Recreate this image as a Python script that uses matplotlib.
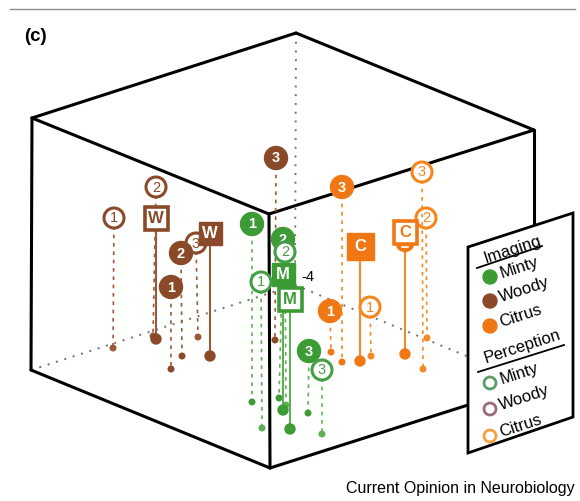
import matplotlib.pyplot as plt
from matplotlib.patches import Circle, Rectangle, Polygon, Wedge

plt.rcParams['font.family'] = ['Liberation Sans', 'DejaVu Sans']

# colours for each odour
fill_col = {'Minty': '#3d9b35', 'Woody': '#8a4a2a', 'Citrus': '#f07814'}
ring_col = {'Minty': '#45a045', 'Woody': '#8a4a2a', 'Citrus': '#f5861e'}
stem_col = {'Minty': '#5fb055', 'Woody': '#9a5a3a', 'Citrus': '#f58a2a'}
legend_ring = {'Minty': '#5b9e6b', 'Woody': '#9b6b7a', 'Citrus': '#f2a040'}

# imaging results (filled circles), position in the drawing + foot of the drop line
img_odour = ['Woody', 'Woody', 'Woody', 'Minty', 'Minty', 'Minty', 'Citrus', 'Citrus']
img_label = ['3', '2', '1', '1', '2', '3', '3', '1']
img_x = [276, 181, 171, 252, 283, 309, 342, 330]
img_y = [158, 253, 287, 224, 239, 351, 187, 311]
img_base_x = [275, 182, 171, 252, 279, 308, 342, 331]
img_base_y = [340, 356, 369, 402, 398, 413, 362, 352]

# perception results (open circles)
perc_odour = ['Woody', 'Woody', 'Woody', 'Minty', 'Minty', 'Minty', 'Citrus', 'Citrus', 'Citrus']
perc_label = ['1', '2', '3', '1', '2', '3', '1', '2', '3']
perc_x = [114, 156, 196, 261, 285, 322, 370, 426, 422]
perc_y = [218, 187, 243, 282, 252, 370, 307, 218, 172]
perc_base_x = [113, 153, 198, 262, 286, 322, 371, 427, 423]
perc_base_y = [348, 336, 337, 428, 405, 434, 356, 338, 369]

# means (squares): filled = imaging, open = perception
mean_odour = ['Woody', 'Woody', 'Minty', 'Minty', 'Citrus', 'Citrus']
mean_kind = ['imaging', 'perception', 'imaging', 'perception', 'imaging', 'perception']
mean_letter = ['W', 'W', 'M', 'M', 'C', 'C']
mean_x = [210, 156, 283, 290, 360, 405]
mean_y = [233, 218, 274, 299, 246, 232]
mean_base_y = [356, 339, 410, 429, 361, 354]

legend_odours = ['Minty', 'Woody', 'Citrus']

# cube corners (pixel space)
TL, TB, TR, TF = (32, 118), (296, 33), (534, 130), (269, 214)
BL, BF, BR, BB = (31, 370), (270, 468), (534, 384), (295, 285)

fig = plt.figure(figsize=(5.8, 5.01), dpi=100)
ax = fig.add_axes([0, 0, 1, 1])
ax.set_xlim(0, 580)
ax.set_ylim(501, 0)
ax.axis('off')


def seg(a, b, **kw):
    ax.plot([a[0], b[0]], [a[1], b[1]], **kw)


# top rule and panel letter
ax.plot([10, 575], [9, 9], color='#8c8c8c', lw=1)
ax.text(24, 36, '(c)', fontsize=13.5, fontweight='bold', va='center', ha='left')

# hidden (dotted) edges
for a, b in [(TB, BB), (BL, BB), (BB, BR)]:
    seg(a, b, color='#707070', lw=1.4, ls=(0, (1, 3.5)), zorder=1)

# visible edges
for a, b in [(TL, TB), (TB, TR), (TR, TF), (TF, TL), (TL, BL), (BL, BF),
             (BF, TF), (BF, BR), (TR, BR)]:
    seg(a, b, color='black', lw=2.2, solid_capstyle='round', zorder=2)

ax.text(301, 277, '-4', fontsize=10.5, va='center', ha='left', zorder=2)

dash = (0, (2.2, 2.8))

# perception circles
for od, lab, x, y, bx, by in zip(perc_odour, perc_label, perc_x, perc_y, perc_base_x, perc_base_y):
    z = 3 + by / 1000
    ax.plot([x, bx], [y, by], color=stem_col[od], lw=1.2, ls=dash, zorder=z - 0.0005)
    ax.add_patch(Circle((bx, by), 2.8, color=stem_col[od], zorder=z - 0.0004))
    ax.add_patch(Circle((x, y), 10, facecolor='white', edgecolor=ring_col[od], lw=2.2, zorder=z))
    ax.text(x, y + 0.5, lab, color=ring_col[od], fontsize=10.5, ha='center', va='center', zorder=z)

# imaging circles
for od, lab, x, y, bx, by in zip(img_odour, img_label, img_x, img_y, img_base_x, img_base_y):
    z = 3 + by / 1000
    ax.plot([x, bx], [y, by], color=stem_col[od], lw=1.2, ls=dash, zorder=z - 0.0005)
    ax.add_patch(Circle((bx, by), 2.8, color=fill_col[od], zorder=z - 0.0004))
    ax.add_patch(Circle((x, y), 11.5, color=fill_col[od], zorder=z))
    ax.text(x, y + 0.5, lab, color='white', fontsize=10.5, fontweight='bold',
            ha='center', va='center', zorder=z)

# mean squares
for od, kind, let, x, y, by in zip(mean_odour, mean_kind, mean_letter, mean_x, mean_y, mean_base_y):
    z = 3 + by / 1000
    s = 27 if (od == 'Citrus' and kind == 'imaging') else 23
    ax.plot([x, x], [y, by], color=stem_col[od], lw=1.5, zorder=z - 0.0005)
    ax.add_patch(Circle((x, by), 5, color=fill_col[od], zorder=z - 0.0004))
    if kind == 'imaging':
        ax.add_patch(Rectangle((x - s / 2, y - s / 2), s, s, color=fill_col[od], zorder=z))
        ax.text(x, y + 0.5, let, color='white', fontsize=12, fontweight='bold',
                ha='center', va='center', zorder=z)
    else:
        if od == 'Citrus':
            ax.add_patch(Wedge((x, y + s / 2 - 1), 9, 0, 180, color=fill_col[od], zorder=z))
            ax.plot([x - 3, x + 3], [y + s / 2 + 3, y + s / 2 + 3], color='white', lw=1.2, zorder=z)
        ax.add_patch(Rectangle((x - s / 2, y - s / 2), s, s, facecolor='white',
                               edgecolor=fill_col[od], lw=2.6, zorder=z))
        ax.text(x, y + 0.5, let, color=fill_col[od], fontsize=12, fontweight='bold',
                ha='center', va='center', zorder=z)

# legend panel (tilted card)
ax.add_patch(Polygon([(468, 247), (573, 213), (573, 417), (468, 453)], closed=True,
                     facecolor='white', edgecolor='black', lw=2, zorder=10))
rot = 18
ax.text(513, 250, 'Imaging', fontsize=12, rotation=rot, ha='center', va='center', zorder=11)
ax.plot([477, 542], [268, 246], color='black', lw=1.3, zorder=11)
ax.text(522, 347, 'Perception', fontsize=12, rotation=rot, ha='center', va='center', zorder=11)
ax.plot([478, 564], [372, 345], color='black', lw=1.3, zorder=11)

img_leg_y = [277, 301, 326]
perc_leg_y = [383, 409, 436]
for od, ly in zip(legend_odours, img_leg_y):
    ax.add_patch(Circle((490, ly), 7, color=fill_col[od], zorder=11))
    ax.text(500, ly - 3, od, fontsize=12, rotation=rot, ha='left', va='center',
            rotation_mode='anchor', zorder=11)
for od, ly in zip(legend_odours, perc_leg_y):
    ax.add_patch(Circle((490, ly), 6, facecolor='white', edgecolor=legend_ring[od], lw=2, zorder=11))
    ax.text(500, ly - 3, od, fontsize=12, rotation=rot, ha='left', va='center',
            rotation_mode='anchor', zorder=11)

ax.text(575, 488, 'Current Opinion in Neurobiology', fontsize=11.5, ha='right', va='center')

fig.savefig('out.png', dpi=100)
